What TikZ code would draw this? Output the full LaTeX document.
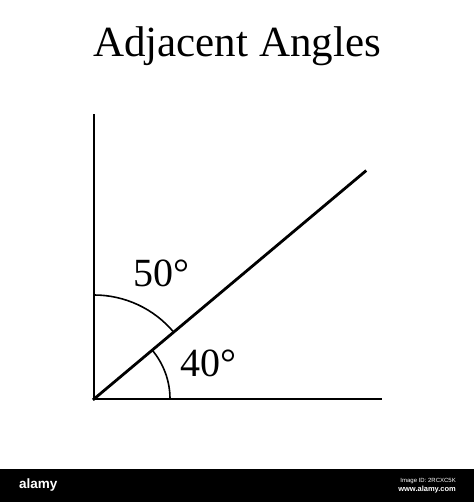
\documentclass[tikz,border=0pt]{standalone}
\usepackage{fontspec}
\setmainfont{Liberation Serif}
\newfontfamily\barfont{Liberation Sans}
\usetikzlibrary{calc}
\tikzset{
  side/.style={line width=2.8pt, line cap=rect},
  anglearc/.style={line width=1.6pt},
  deglabel/.style={anchor=base, inner sep=0pt, font=\fontsize{40}{48}\selectfont},
  bartext/.style={text=white, inner sep=0pt, font=\barfont}
}
\begin{document}
\begin{tikzpicture}[x=1pt, y=1pt]
      \useasboundingbox (0, 0) rectangle (474, 502);
      \node (title) [anchor=base, inner sep=0pt, font=\fontsize{43}{52}\selectfont] at (237, 445) {Adjacent Angles};
      % the three sides
      \coordinate (vertex) at (94, 103);
      \coordinate (top) at (94, 387);
      \coordinate (right) at (381, 103);
      \coordinate (ray) at ($(vertex)+(40:354)$);
      \draw [side] (top) -- (vertex) -- (right);
      \draw [side] (vertex) -- (ray);
      % angle marks
      \draw [anglearc] ($(vertex)+(0, 104)$) arc [start angle=90, end angle=40, radius=104];
      \draw [anglearc] ($(vertex)+(76, 0)$) arc [start angle=0, end angle=40, radius=76];
      \node (upper) [deglabel] at (161, 215) {50°};
      \node (lower) [deglabel] at (208, 125) {40°};
      % stock bar
      \fill [black] (0, 0) rectangle (474, 33);
      \node (logo) [bartext, anchor=base west, font=\barfont\bfseries\fontsize{13.5}{16}\selectfont] at (19, 13) {alamy};
      \node (imageid) [bartext, anchor=base east, font=\barfont\fontsize{6}{7}\selectfont] at (456, 19) {Image ID: 2RCXC5K};
      \node (site) [bartext, anchor=base east, font=\barfont\bfseries\fontsize{7.5}{9}\selectfont] at (456, 10) {www.alamy.com};
\end{tikzpicture}
\end{document}
